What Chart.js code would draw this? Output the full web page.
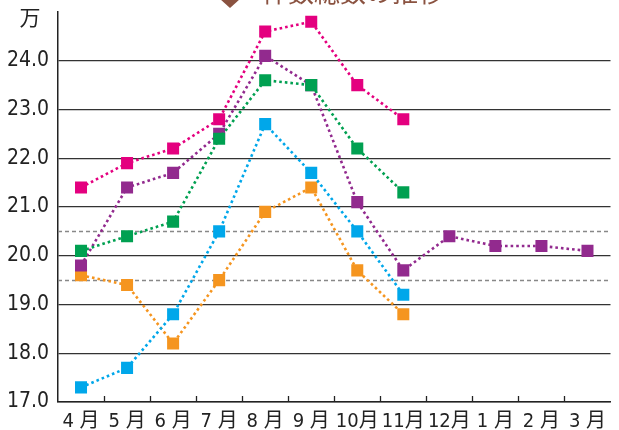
<!DOCTYPE html>
<html>
<head>
<meta charset="utf-8">
<script src="https://cdn.jsdelivr.net/npm/chart.js@4"></script>
<style>
  html, body { margin: 0; padding: 0; background: #fff; }
  #wrap { width: 619px; height: 430px; position: relative; }
</style>
</head>
<body>
<div id="wrap"><canvas id="c" width="619" height="430"></canvas></div>
<script>
// data block
const months = ['4 月', '5 月', '6 月', '7 月', '8 月', '9 月', '10月', '11月', '12月', '1 月', '2 月', '3 月'];
const pinkVals   = [21.4, 21.9, 22.2, 22.8, 24.6, 24.8, 23.5, 22.8];
const purpleVals = [19.8, 21.4, 21.7, 22.5, 24.1, 23.5, 21.1, 19.7, 20.4, 20.2, 20.2, 20.1];
const greenVals  = [20.1, 20.4, 20.7, 22.4, 23.6, 23.5, 22.2, 21.3];
const blueVals   = [17.3, 17.7, 18.8, 20.5, 22.7, 21.7, 20.5, 19.2];
const orangeVals = [19.6, 19.4, 18.2, 19.5, 20.9, 21.4, 19.7, 18.8];
const refLines = [19.5, 20.5];
const yTicks = [17, 18, 19, 20, 21, 22, 23, 24];
const titleText = '件数総数の推移';
const unitText = '万';

const numFont = '"Liberation Sans Narrow", "DejaVu Sans Condensed", "Noto Sans CJK JP", sans-serif';

// config block
const mkLine = (label, vals, color, order) => ({
  label,
  data: vals,
  borderColor: color,
  backgroundColor: color,
  borderWidth: 2.6,
  borderDash: [2.6, 3],
  pointStyle: 'rect',
  pointRadius: 8.5,
  pointHoverRadius: 8.5,
  pointBorderWidth: 0,
  pointBackgroundColor: color,
  tension: 0,
  order,
});

const data = {
  labels: months,
  datasets: [
    mkLine('pink', pinkVals, '#E4007F', 1),
    mkLine('green', greenVals, '#00A051', 2),
    mkLine('blue', blueVals, '#00A7EA', 3),
    mkLine('purple', purpleVals, '#922A8E', 4),
    mkLine('orange', orangeVals, '#F5951F', 5),
  ],
};

const decor = {
  id: 'decor',
  beforeDatasetsDraw(chart) {
    const { ctx, chartArea: a, scales: { x, y } } = chart;
    ctx.save();
    // dashed reference lines
    ctx.strokeStyle = '#888';
    ctx.lineWidth = 1.5;
    ctx.setLineDash([4, 3]);
    refLines.forEach(v => {
      const py = Math.round(y.getPixelForValue(v)) + 0.5;
      ctx.beginPath();
      ctx.moveTo(a.left, py);
      ctx.lineTo(a.right, py);
      ctx.stroke();
    });
    ctx.setLineDash([]);
    // inner tick marks on x axis at category boundaries
    ctx.strokeStyle = '#222';
    ctx.lineWidth = 1.3;
    const half = (x.getPixelForValue(1) - x.getPixelForValue(0)) / 2;
    for (let i = 0; i < months.length - 1; i++) {
      const px = Math.round(x.getPixelForValue(i) + half) + 0.5;
      ctx.beginPath();
      ctx.moveTo(px, a.bottom);
      ctx.lineTo(px, a.bottom - 6);
      ctx.stroke();
    }
    ctx.restore();
  },
  afterDraw(chart) {
    const { ctx } = chart;
    ctx.save();
    // unit
    ctx.fillStyle = '#222';
    ctx.font = '21px "Noto Sans CJK JP", sans-serif';
    ctx.textAlign = 'center';
    ctx.textBaseline = 'middle';
    ctx.fillText(unitText, 30, 17);
    // title, cut off at the top edge
    ctx.fillStyle = '#8A5240';
    ctx.beginPath();
    ctx.moveTo(230, -10);
    ctx.lineTo(240, -1);
    ctx.lineTo(230, 8);
    ctx.lineTo(220, -1);
    ctx.closePath();
    ctx.fill();
    ctx.font = '26px "Noto Sans CJK JP", sans-serif';
    ctx.textAlign = 'left';
    ctx.textBaseline = 'alphabetic';
    ctx.fillText(titleText, 262, 2);
    ctx.restore();
  },
};

const config = {
  type: 'line',
  data,
  options: {
    responsive: false,
    animation: false,
    layout: { padding: { top: 12, right: 0, left: 0, bottom: 0 } },
    plugins: { legend: { display: false }, tooltip: { enabled: false } },
    scales: {
      x: {
        offset: true,
        grid: { display: false, offset: true },
        border: { display: true, color: '#222', width: 1.5 },
        ticks: {
          color: '#222',
          font: { family: numFont, size: 20 },
          padding: 0,
          maxRotation: 0,
          autoSkip: false,
        },
        afterFit(scale) {
          scale.height = 28;
          scale.paddingLeft = 0;
          scale.paddingRight = 0;
        },
      },
      y: {
        min: 17,
        max: 25,
        afterBuildTicks(scale) { scale.ticks = yTicks.map(v => ({ value: v })); },
        grid: { color: '#333', lineWidth: 1.3, drawTicks: false },
        border: { display: true, color: '#222', width: 1.5 },
        ticks: {
          color: '#222',
          padding: 9,
          font: { family: numFont, size: 21 },
          callback: v => v.toFixed(1),
        },
        afterFit(scale) {
          scale.width = 58;
          scale.paddingTop = 0;
          scale.paddingBottom = 0;
        },
      },
    },
  },
  plugins: [decor],
};

// init render block
new Chart(document.getElementById('c'), config);
</script>
</body>
</html>
